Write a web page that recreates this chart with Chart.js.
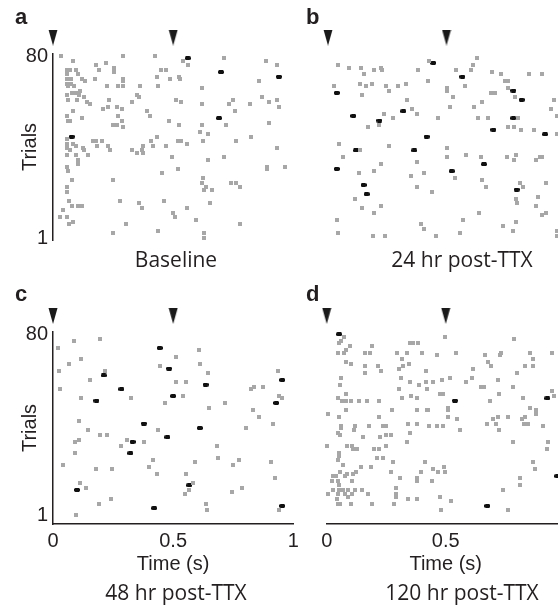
<!DOCTYPE html>
<html>
<head>
<meta charset="utf-8">
<script src="https://cdn.jsdelivr.net/npm/chart.js@4/dist/chart.umd.min.js"></script>
<style>
  html, body { margin: 0; padding: 0; background: #fff; overflow: hidden; }
  #fig { position: relative; width: 558px; height: 608px; overflow: hidden; }
  #fig canvas { position: absolute; }
</style>
</head>
<body>
<div id="fig">
  <canvas id="pa" width="337" height="280" style="left:0;top:0"></canvas>
  <canvas id="pb" width="343" height="280" style="left:275px;top:0"></canvas>
  <canvas id="pc" width="337" height="328" style="left:0;top:280px"></canvas>
  <canvas id="pd" width="343" height="328" style="left:275px;top:280px"></canvas>
</div>
<script>
// stimulus onsets (s) and axis ticks
var stimTimes = [0, 0.5];
var xTicks = [0, 0.5, 1];
var yTicks = [1, 80];
var letters = ["a", "b", "c", "d"];
var conditions = ["Baseline", "24 hr post-TTX", "48 hr post-TTX", "120 hr post-TTX"];

// spikes: [time (s), trial]
var baselineGray = [
  [0.032,80],[0.082,78],[0.290,80],[0.179,76],[0.193,74],[0.221,77],[0.254,75],[0.254,73],[0.060,74],[0.071,74],[0.060,72],[0.096,74],[0.105,72],
  [0.057,70],[0.074,70],[0.057,68],[0.075,68],[0.087,67],[0.119,70],[0.133,69],[0.175,70],[0.293,70],[0.293,69],[0.226,67],[0.272,67],[0.290,67],[0.064,67],
  [0.112,65],[0.060,63],[0.078,64],[0.096,64],[0.110,63],[0.129,62],[0.064,61],[0.098,61],[0.140,60],[0.154,59],[0.234,61],[0.207,57],[0.230,58],[0.268,58],
  [0.286,57],[0.286,52],[0.085,56],[0.057,54],[0.064,52],[0.071,52],[0.119,53],[0.272,54],[0.251,50],[0.265,50],[0.293,49],[0.057,44],[0.060,42],[0.057,40],
  [0.085,42],[0.096,41],[0.168,43],[0.179,43],[0.202,43],[0.184,41],[0.230,41],[0.237,39],[0.123,40],[0.071,39],[0.129,39],[0.147,37],[0.060,37],[0.096,37],
  [0.105,35],[0.057,32],[0.064,30],[0.105,33],[0.248,26],[0.078,26],[0.060,23],[0.060,21],[0.279,17],[0.068,17],[0.078,15],[0.105,15],[0.119,15],[0.040,13],
  [0.029,10],[0.060,10],[0.082,8],[0.068,7],[0.304,7],[0.248,3],
  [0.424,80],[0.540,78],[0.561,76],[0.712,79],[0.885,78],[0.931,76],[0.448,74],[0.469,74],[0.431,71],[0.487,70],[0.524,71],[0.528,70],[0.362,67],[0.435,67],
  [0.618,66],[0.857,69],[0.348,63],[0.358,62],[0.327,60],[0.511,61],[0.531,60],[0.618,59],[0.732,59],[0.748,61],[0.757,56],[0.820,59],[0.868,62],[0.899,60],
  [0.931,61],[0.941,58],[0.390,56],[0.404,54],[0.483,52],[0.524,50],[0.618,50],[0.718,50],[0.899,51],[0.612,47],[0.644,46],[0.431,45],[0.824,45],[0.406,43],
  [0.415,41],[0.376,41],[0.369,39],[0.351,38],[0.376,38],[0.327,39],[0.469,41],[0.522,43],[0.531,43],[0.556,42],[0.623,43],[0.760,43],[0.931,40],[0.494,36],
  [0.644,35],[0.711,36],[0.889,32],[0.889,31],[0.965,32],[0.519,31],[0.452,29],[0.623,27],[0.619,25],[0.636,23],[0.628,22],[0.660,22],[0.741,25],[0.762,25],
  [0.778,23],[0.358,16],[0.369,14],[0.462,17],[0.556,14],[0.653,16],[0.498,12],[0.508,10],[0.595,9],[0.778,7],[0.436,4],[0.628,3],[0.628,1]
];
var baselineBlack = [[0.561,79],[0.699,73],[0.940,71],[0.691,53],[0.078,45]];

var ttx24Gray = [
  [0.041,76],[0.089,75],[0.139,75],[0.196,74],[0.224,75],[0.229,74],[0.153,72],[0.135,68],[0.159,67],[0.184,68],[0.024,67],[0.142,63],[0.245,67],[0.257,65],[0.297,67],[0.328,68],
  [0.381,74],[0.426,78],[0.421,69],[0.501,66],[0.501,65],[0.540,74],[0.603,74],[0.613,76],[0.627,79],[0.578,67],[0.691,73],[0.730,72],[0.747,69],[0.761,69],[0.848,72],[0.902,72],
  [0.761,66],[0.688,64],[0.705,64],[0.789,62],[0.651,60],[0.615,58],[0.529,62],[0.515,58],[0.332,61],[0.353,57],[0.374,55],[0.238,55],[0.273,53],[0.217,50],[0.167,49],
  [0.463,53],[0.632,53],[0.677,53],[0.800,53],[0.761,49],[0.783,49],[0.814,48],[0.869,48],[0.955,61],[0.942,57],[0.965,54],[0.965,46],
  [0.046,42],[0.065,36],[0.135,39],[0.257,41],[0.374,34],[0.501,40],[0.501,36],[0.581,37],[0.645,36],[0.757,36],[0.793,37],[0.783,35],[0.878,35],[0.895,36],[0.902,36],
  [0.224,33],[0.194,30],[0.131,29],[0.350,28],[0.405,29],[0.536,27],[0.651,26],[0.665,23],[0.810,25],[0.824,23],[0.918,25],[0.374,23],[0.437,21],[0.114,18],[0.885,19],[0.792,18],[0.799,16],
  [0.142,14],[0.194,12],[0.224,15],[0.637,12],[0.571,9],[0.876,15],[0.918,12],[0.904,11],[0.037,9],[0.391,7],[0.405,5],[0.740,6],[0.792,8],[0.779,4],
  [0.041,3],[0.188,2],[0.241,2],[0.456,2],[0.557,3],[0.965,4],[0.965,2]
];
var ttx24Black = [
  [0.037,64],[0.444,77],[0.567,71],[0.782,65],[0.817,61],[0.318,56],[0.107,54],[0.217,52],[0.782,53],[0.916,46],
  [0.698,48],[0.416,45],[0.118,39],[0.364,39],[0.658,33],[0.037,31],[0.522,30],[0.796,22],[0.150,24],[0.163,20]
];

var ttx48Gray = [
  [0.021,74],[0.086,77],[0.194,78],[0.025,64],[0.067,67],[0.118,69],[0.028,56],[0.156,60],[0.215,64],[0.118,52],[0.326,52],[0.108,42],[0.146,38],[0.197,36],[0.225,36],
  [0.090,33],[0.107,34],[0.090,28],[0.042,23],[0.178,21],[0.247,21],[0.111,15],[0.136,13],[0.190,6],[0.243,8],[0.097,1],[0.378,33],[0.306,34],[0.285,31],[0.417,25],[0.399,22],[0.431,19],
  [0.444,66],[0.511,70],[0.511,59],[0.553,59],[0.465,50],[0.542,53],[0.439,38],[0.607,73],[0.611,67],[0.646,63],[0.651,48],[0.717,50],[0.590,24],[0.553,19],[0.681,31],[0.686,26],
  [0.583,15],[0.567,12],[0.549,10],[0.636,6],[0.642,3],[0.822,56],[0.836,57],[0.875,57],[0.833,47],[0.858,44],[0.914,41],[0.803,39],[0.750,23],[0.772,25],[0.906,24],[0.924,17],
  [0.743,11],[0.785,13],[0.935,64],[0.940,53],[0.942,3],[0.951,52]
];
var ttx48Black = [
  [0.100,12],[0.211,62],[0.181,51],[0.285,56],[0.378,41],[0.331,33],[0.322,28],[0.444,74],[0.483,65],[0.500,53],
  [0.476,35],[0.635,58],[0.611,39],[0.567,14],[0.421,4],[0.929,50],[0.954,60],[0.954,5]
];

var ttx120Gray = [
  [0.073,79],[0.053,76],[0.059,77],[0.098,75],[0.049,72],[0.073,72],[0.081,73],[0.161,72],[0.182,72],[0.189,75],[0.350,76],[0.361,76],[0.385,76],[0.297,72],
  [0.339,72],[0.399,72],[0.315,69],[0.081,68],[0.101,67],[0.161,66],[0.161,63],[0.217,66],[0.227,64],[0.305,65],[0.322,66],[0.347,67],[0.417,64],[0.059,61],
  [0.311,61],[0.056,58],[0.350,59],[0.389,58],[0.417,59],[0.420,56],[0.445,59],[0.304,56],[0.081,54],[0.315,52],[0.353,53],[0.381,52],[0.049,52],
  [0.063,51],[0.073,51],[0.081,51],[0.101,51],[0.137,51],[0.168,51],[0.221,51],
  [0.081,47],[0.007,45],[0.053,44],[0.273,47],[0.378,47],[0.420,47],[0.427,47],[0.221,44],[0.059,40],[0.059,39],[0.119,40],[0.179,40],[0.238,40],[0.249,40],
  [0.343,41],[0.381,41],[0.431,40],[0.115,38],[0.049,37],[0.056,36],[0.151,35],[0.224,35],[0.249,36],[0.269,36],[0.350,37],[0.336,33],[0.003,31],[0.084,31],
  [0.105,31],[0.109,30],[0.129,30],[0.199,30],[0.221,30],[0.249,31],[0.053,28],[0.053,27],[0.049,25],[0.070,23],[0.213,26],[0.238,26],[0.280,24],[0.413,24],
  [0.143,22],[0.185,22],[0.028,18],[0.039,18],[0.056,20],[0.077,18],[0.087,19],[0.112,19],[0.123,20],[0.269,20],[0.395,20],[0.445,21],[0.021,16],[0.049,16],
  [0.105,16],[0.308,17],[0.381,16],[0.381,17],[0.441,16],[0.053,14],[0.053,12],[0.070,12],[0.091,12],[0.077,10],[0.025,12],[0.105,10],[0.119,12],[0.147,12],
  [0.175,10],[0.291,13],[0.291,10],[0.291,9],[0.049,10],[0.045,8],[0.091,9],[0.007,10],[0.049,6],[0.056,6],[0.101,6],[0.189,6],[0.283,6],[0.343,8],[0.381,8],
  [0.497,79],[0.787,78],[0.462,71],[0.544,72],[0.665,71],[0.676,68],[0.690,66],[0.728,71],[0.732,72],[0.854,72],[0.865,69],[0.833,66],[0.865,66],[0.945,72],
  [0.613,65],[0.798,63],[0.483,60],[0.518,61],[0.609,61],[0.585,59],[0.718,60],[0.648,57],[0.662,57],[0.781,57],[0.476,54],[0.490,54],[0.511,48],[0.511,47],
  [0.724,54],[0.686,51],[0.823,52],[0.945,55],[0.955,53],[0.854,48],[0.879,47],[0.879,45],[0.508,44],[0.546,43],[0.462,40],[0.487,40],[0.560,38],[0.672,41],
  [0.698,43],[0.710,41],[0.718,44],[0.760,44],[0.819,43],[0.833,44],[0.830,41],[0.847,41],[0.723,38],[0.908,40],[0.782,33],[0.931,33],[0.927,30],[0.865,24],
  [0.875,21],[0.493,22],[0.469,20],[0.497,20],[0.812,17],[0.812,14],[0.739,12],[0.476,9],[0.522,7],[0.480,3],[0.760,3]
];
var ttx120Black = [[0.052,80],[0.539,51],[0.675,5],[0.927,52],[0.969,18]];

var ink = "#231f20";
var tickFont = { family: "Liberation Sans, Arial, sans-serif", size: 20 };
var arrowTrial = 88; // markers sit above the top trial

function sprite(w, h, draw) {
  var c = document.createElement("canvas");
  c.width = w;
  c.height = h;
  draw(c.getContext("2d"));
  return c;
}
var grayMark = sprite(4, 4, function (g) {
  g.fillStyle = "#a7a7a7";
  g.fillRect(0, 0, 4, 4);
});
var blackMark = sprite(6, 4, function (g) {
  g.fillStyle = "#111";
  g.fillRect(1, 0, 4, 4);
  g.fillRect(0, 0.6, 6, 2.8);
});
var arrowMark = sprite(10, 16, function (g) {
  g.fillStyle = "#1a1a1a";
  g.beginPath();
  g.moveTo(0.5, 0);
  g.lineTo(9.5, 0);
  g.lineTo(5, 16);
  g.closePath();
  g.fill();
});

// stimulus arrowheads above the raster (outside the chart area)
var stimArrows = {
  id: "stimArrows",
  afterDatasetsDraw: function (chart) {
    var xs = chart.scales.x, ys = chart.scales.y;
    var y = ys.getPixelForValue(arrowTrial);
    stimTimes.forEach(function (t) {
      var x = xs.getPixelForValue(t);
      chart.ctx.drawImage(arrowMark, x - arrowMark.width / 2, y - arrowMark.height / 2);
    });
  }
};

function toXY(list) {
  return list.map(function (p) { return { x: p[0], y: p[1] }; });
}

function rasterChart(id, n, gray, black, o) {
  return new Chart(document.getElementById(id), {
    type: "scatter",
    data: {
      datasets: [
        { data: toXY(gray), pointStyle: grayMark, pointRadius: 2, clip: false },
        { data: toXY(black), pointStyle: blackMark, pointRadius: 3, clip: false }
      ]
    },
    plugins: [stimArrows],
    options: {
      responsive: false,
      animation: false,
      events: [],
      layout: { padding: { left: o.padL, right: 0, top: 0, bottom: o.padB } },
      plugins: {
        legend: { display: false },
        tooltip: { enabled: false },
        title: {
          display: true, text: letters[n], align: "start", position: "top",
          color: ink, font: { family: "Liberation Sans, Arial, sans-serif", size: 22, weight: "bold" },
          padding: o.titlePad
        },
        subtitle: {
          display: true, text: conditions[n], align: "center", position: "bottom",
          color: ink, font: { family: "Open Sans, sans-serif", size: 21, weight: "normal" },
          padding: o.subPad
        }
      },
      scales: {
        x: {
          type: "linear", min: 0, max: 1, display: o.showX,
          grid: { display: false, drawTicks: false },
          border: { display: true, color: ink, width: 1.5 },
          ticks: { color: ink, font: tickFont, padding: 5, autoSkip: false, maxRotation: 0,
                   callback: function (v) { return String(v); } },
          afterBuildTicks: function (s) { s.ticks = xTicks.map(function (v) { return { value: v }; }); },
          title: { display: true, text: "Time (s)", color: ink, font: tickFont, padding: { top: 0, bottom: 0 } },
          afterFit: function (s) {
            s.height = o.showX ? 52 : 0;
            s.paddingLeft = 0;
            s.paddingRight = 0;
          }
        },
        y: {
          type: "linear", min: o.yMin, max: 81, position: "left",
          grid: { display: false, drawTicks: false },
          border: { display: o.showY, color: ink, width: 1.5 },
          ticks: { display: o.showY, color: ink, font: tickFont, padding: 5, autoSkip: false,
                   callback: function (v) { return String(v); } },
          afterBuildTicks: function (s) { s.ticks = yTicks.map(function (v) { return { value: v }; }); },
          title: { display: o.showY, text: "Trials", color: ink, font: tickFont, padding: { top: 3.5, bottom: 0 } },
          afterFit: function (s) { s.width = o.yWidth; s.paddingTop = 0; s.paddingBottom = 0; }
        },
        yr: {
          type: "linear", position: "right",
          grid: { display: false, drawTicks: false },
          border: { display: false },
          ticks: { display: false },
          afterFit: function (s) { s.width = o.rightW; s.paddingTop = 0; s.paddingBottom = 0; }
        }
      }
    }
  });
}

var topPads = { titlePad: { top: 4.8, bottom: 22.5 }, subPad: { top: 7.8, bottom: 0 }, padB: 6.7, yMin: 0, showX: false };
var botPads = { titlePad: { top: 2.2, bottom: 23.4 }, subPad: { top: 5.4, bottom: 0 }, padB: 1.4, yMin: -2.9, showX: true };

rasterChart("pa", 0, baselineGray, baselineBlack,
  Object.assign({ padL: 15, yWidth: 38, rightW: 43.7, showY: true }, topPads));
rasterChart("pb", 1, ttx24Gray, ttx24Black,
  Object.assign({ padL: 31, yWidth: 22, rightW: 53, showY: false }, topPads));
rasterChart("pc", 2, ttx48Gray, ttx48Black,
  Object.assign({ padL: 15, yWidth: 38, rightW: 43.7, showY: true }, botPads));
rasterChart("pd", 3, ttx120Gray, ttx120Black,
  Object.assign({ padL: 31, yWidth: 20.7, rightW: 53.3, showY: false }, botPads));
</script>
</body>
</html>
